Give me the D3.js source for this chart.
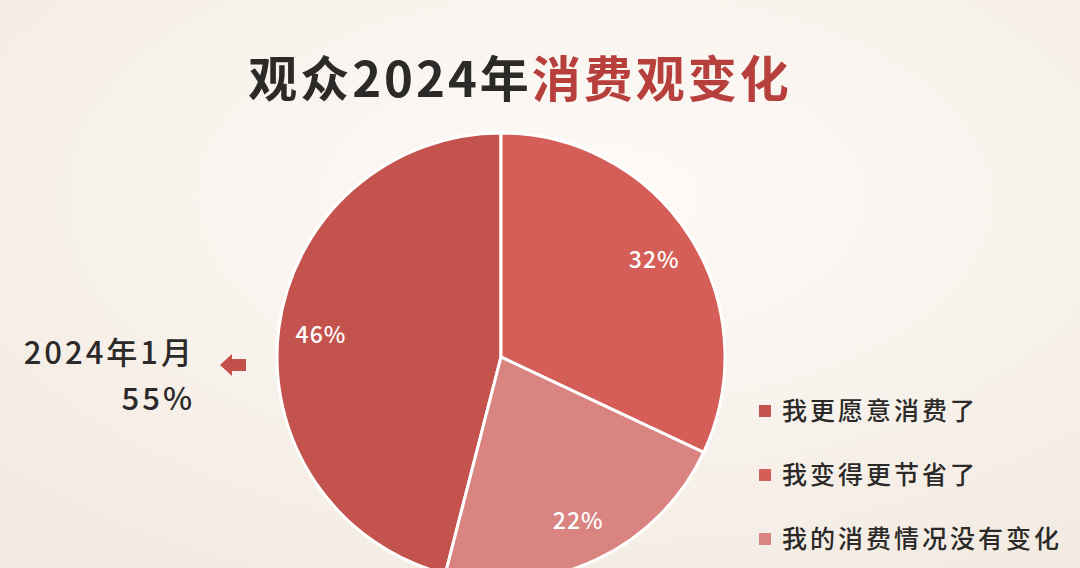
<!DOCTYPE html>
<html>
<head>
<meta charset="utf-8">
<script src="https://cdn.jsdelivr.net/npm/d3@7"></script>
<style>
  html, body { margin: 0; padding: 0; background: #f7f2ec; }
  svg { display: block; font-family: "Noto Sans CJK SC", "Noto Sans", sans-serif; }
</style>
</head>
<body>
<svg id="chart" width="1080" height="568"></svg>
<script>
// data
var categories = ["我更愿意消费了", "我变得更节省了", "我的消费情况没有变化"];
var values = [46, 32, 22];
var colors = ["#c4524d", "#d55f58", "#d98480"];
var compareLabel = ["2024年1月", "55%"];

var width = 1080, height = 568;
var cx = 501, cy = 357, radius = 224;

var svg = d3.select("#chart");

// soft cream background
var defs = svg.append("defs");
var grad = defs.append("radialGradient").attr("id", "bg")
    .attr("cx", "55%").attr("cy", "35%").attr("r", "75%");
grad.append("stop").attr("offset", "0%").attr("stop-color", "#fdfbf8");
grad.append("stop").attr("offset", "100%").attr("stop-color", "#f3ebe2");
svg.append("rect").attr("width", width).attr("height", height).attr("fill", "url(#bg)");

// title, two colours
var title = svg.append("text")
    .attr("x", 520).attr("y", 97)
    .attr("text-anchor", "middle")
    .style("font-size", "49px").style("font-weight", "bold")
    .style("letter-spacing", "3px");
title.append("tspan").attr("fill", "#2b2a29").text("观众2024年");
title.append("tspan").attr("fill", "#b7403d").text("消费观变化");

// pie, first slice ends at 12 o'clock
var total = d3.sum(values);
var start = -2 * Math.PI * values[0] / total;
var pie = d3.pie().sort(null).startAngle(start).endAngle(start + 2 * Math.PI);
var arcs = pie(values);
var arc = d3.arc().innerRadius(0).outerRadius(radius);
var labelArc = d3.arc().innerRadius(radius * 0.81).outerRadius(radius * 0.81);

var g = svg.append("g").attr("transform", "translate(" + cx + "," + cy + ")");

g.selectAll("path.slice")
    .data(arcs)
    .enter()
    .append("path")
    .attr("class", "slice")
    .attr("d", arc)
    .attr("fill", function(d, i) { return colors[i]; })
    .attr("stroke", "#ffffff")
    .attr("stroke-width", 3);

g.selectAll("text.pct")
    .data(arcs)
    .enter()
    .append("text")
    .attr("class", "pct")
    .attr("transform", function(d) { return "translate(" + labelArc.centroid(d) + ")"; })
    .attr("text-anchor", "middle")
    .attr("dy", "0.36em")
    .attr("fill", "#ffffff")
    .style("font-size", "23px")
    .style("font-weight", "500")
    .style("letter-spacing", "1px")
    .text(function(d) { return d.value + "%"; });

// comparison note on the left
svg.append("text")
    .attr("x", 195).attr("y", 364)
    .attr("text-anchor", "end")
    .attr("fill", "#2b2a29")
    .style("font-size", "31px")
    .style("font-weight", "500")
    .style("letter-spacing", "3px")
    .text(compareLabel[0]);
svg.append("text")
    .attr("x", 195).attr("y", 410)
    .attr("text-anchor", "end")
    .attr("fill", "#2b2a29")
    .style("font-size", "31px")
    .style("font-weight", "500")
    .style("letter-spacing", "3px")
    .text(compareLabel[1]);

// little arrow pointing left
svg.append("path")
    .attr("d", "M220,365 L232,354 L232,359 L246,359 L246,371 L232,371 L232,376 Z")
    .attr("fill", "#c4504b");

// legend
var legend = svg.selectAll("g.legend")
    .data(categories)
    .enter()
    .append("g")
    .attr("class", "legend")
    .attr("transform", function(d, i) { return "translate(759," + (411 + i * 64) + ")"; });

legend.append("rect")
    .attr("x", 0).attr("y", -6)
    .attr("width", 12).attr("height", 12)
    .attr("fill", function(d, i) { return colors[i]; });

legend.append("text")
    .attr("x", 23)
    .attr("dy", "0.36em")
    .attr("fill", "#2b2a29")
    .style("font-size", "25px")
    .style("font-weight", "500")
    .style("letter-spacing", "3px")
    .text(function(d) { return d; });
</script>
</body>
</html>
